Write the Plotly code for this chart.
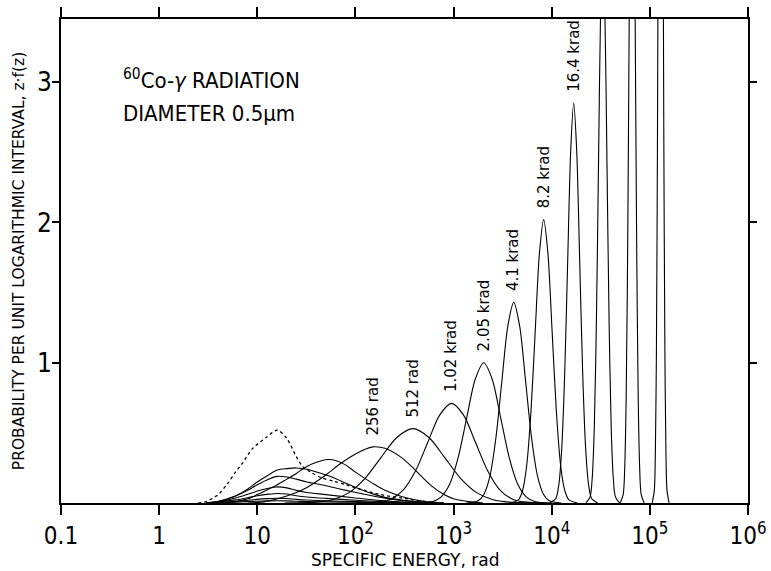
import math
import plotly.graph_objects as go

# ---------------- data ----------------
x_tick_vals = [0.1, 1, 10, 100, 1000, 10000, 100000, 1000000]
x_tick_text = ["0.1", "1", "10", "10<sup>2</sup>", "10<sup>3</sup>",
               "10<sup>4</sup>", "10<sup>5</sup>", "10<sup>6</sup>"]
y_tick_vals = [1, 2, 3]
y_tick_text = ["1", "2", "3"]

# single-event distribution (dotted)
z_single = [2.5, 3, 4, 5, 6, 7, 9, 12.5, 16, 20, 25, 29, 35, 45, 60, 80, 110, 180, 300, 500, 800]
y_single = [0, 0.01, 0.06, 0.14, 0.22, 0.28, 0.39, 0.47, 0.52, 0.46, 0.33, 0.26, 0.22, 0.18,
            0.155, 0.13, 0.10, 0.06, 0.035, 0.012, 0]

# multi-event distributions, low doses
z_1 = [3, 4, 6, 8, 10, 13, 16, 20, 25, 32, 50, 100, 200, 400]
y_1 = [0, 0.002, 0.006, 0.010, 0.013, 0.015, 0.016, 0.015, 0.012, 0.010, 0.008, 0.005, 0.002, 0]
z_2 = [3, 4, 6, 8, 10, 13, 16, 20, 25, 32, 50, 100, 200, 400]
y_2 = [0, 0.004, 0.012, 0.020, 0.026, 0.031, 0.034, 0.032, 0.026, 0.021, 0.016, 0.010, 0.004, 0]
z_4 = [3, 4, 6, 8, 10, 13, 16, 20, 25, 32, 50, 100, 200, 400]
y_4 = [0, 0.007, 0.022, 0.038, 0.052, 0.063, 0.068, 0.064, 0.052, 0.043, 0.033, 0.020, 0.008, 0]
z_8 = [3, 4, 6, 8, 10, 13, 16, 20, 25, 32, 50, 100, 200, 500]
y_8 = [0, 0.010, 0.035, 0.062, 0.085, 0.105, 0.115, 0.108, 0.090, 0.075, 0.060, 0.036, 0.015, 0]
z_16 = [3, 4, 6, 8, 10, 13, 16, 20, 25, 32, 45, 60, 80, 110, 200, 400, 700]
y_16 = [0, 0.012, 0.050, 0.090, 0.130, 0.170, 0.190, 0.185, 0.170, 0.150, 0.130, 0.110, 0.090,
        0.070, 0.035, 0.010, 0]
z_32 = [3, 4, 6, 8, 10, 13, 16, 20, 25, 32, 45, 60, 80, 110, 150, 200, 300, 500, 700]
y_32 = [0, 0.010, 0.050, 0.100, 0.150, 0.200, 0.235, 0.245, 0.250, 0.240, 0.210, 0.180, 0.140,
        0.100, 0.065, 0.040, 0.020, 0.005, 0]
z_64 = [4, 6, 8, 10, 14, 16, 20, 25, 30, 40, 52, 65, 80, 100, 150, 200, 300, 500, 800]
y_64 = [0, 0.010, 0.030, 0.060, 0.110, 0.130, 0.170, 0.210, 0.250, 0.290, 0.310, 0.300, 0.270,
        0.220, 0.140, 0.090, 0.045, 0.012, 0]

# multi-event distributions, higher doses
z_256 = [8, 12, 20, 30, 50, 70, 100, 150, 200, 300, 400, 600, 800, 1000, 1500, 2000]
y_256 = [0, 0.01, 0.05, 0.10, 0.20, 0.28, 0.35, 0.40, 0.39, 0.32, 0.24, 0.12, 0.06, 0.03, 0.008, 0]
z_512 = [18.9, 40.2, 58.5, 85.3, 124, 181, 264, 385, 561, 817, 1191, 1734, 2529, 3681, 7816]
y_512 = [0, 0.006, 0.023, 0.072, 0.172, 0.322, 0.467, 0.53, 0.467, 0.322, 0.172, 0.072, 0.023, 0.006, 0]
z_1k = [101, 177, 234, 310, 411, 545, 721, 955, 1265, 1675, 2218, 2938, 3890, 5152, 9036]
y_1k = [0, 0.008, 0.031, 0.096, 0.231, 0.431, 0.626, 0.71, 0.626, 0.431, 0.231, 0.096, 0.031, 0.008, 0]
z_2k = [412, 614, 749, 914, 1115, 1361, 1662, 2028, 2475, 3020, 3686, 4498, 5490, 6699, 9977]
y_2k = [0, 0.011, 0.044, 0.135, 0.325, 0.607, 0.882, 1.0, 0.882, 0.607, 0.325, 0.135, 0.044, 0.011, 0]
z_4k = [1346, 1778, 2044, 2350, 2701, 3105, 3569, 4102, 4716, 5420, 6231, 7161, 8232, 9462, 12503]
y_4k = [0, 0.016, 0.063, 0.193, 0.465, 0.868, 1.261, 1.43, 1.261, 0.868, 0.465, 0.193, 0.063, 0.016, 0]
z_8k = [3750, 4571, 5047, 5572, 6152, 6792, 7499, 8279, 9141, 10093, 11143, 12303, 13583, 14997, 18281]
y_8k = [0, 0.022, 0.089, 0.273, 0.657, 1.226, 1.782, 2.02, 1.782, 1.226, 0.657, 0.273, 0.089, 0.022, 0]
z_16k = [9550, 10990, 11790, 12647, 13566, 14555, 15614, 16749, 17968, 19275, 20677, 22182, 23797,
         25527, 29376]
y_16k = [0, 0.031, 0.125, 0.385, 0.926, 1.73, 2.514, 2.85, 2.514, 1.73, 0.926, 0.385, 0.125, 0.031, 0]
z_32k = [22284, 24604, 25855, 27164, 28545, 29992, 31516, 33113, 34797, 36559, 38415, 40365, 42413,
         44566, 49204]
y_32k = [0, 0.044, 0.176, 0.54, 1.3, 2.428, 3.528, 4.0, 3.528, 2.428, 1.3, 0.54, 0.176, 0.044, 0]
z_65k = [49888, 53519, 55432, 57412, 59462, 61591, 63790, 66069, 68428, 70874, 73406, 76033, 78748,
         81565, 87498]
y_65k = [0, 0.062, 0.249, 0.764, 1.84, 3.436, 4.992, 5.66, 4.992, 3.436, 1.84, 0.764, 0.249, 0.062, 0]
z_131k = [105580, 110970, 113750, 116630, 119560, 122580, 125690, 128820, 132050, 135380, 138800,
          142290, 145870, 149570, 157180]
y_131k = [0, 0.088, 0.352, 1.08, 2.6, 4.856, 7.056, 8.0, 7.056, 4.856, 2.6, 1.08, 0.352, 0.088, 0]

curve_z = [z_1, z_2, z_4, z_8, z_16, z_32, z_64, z_256, z_512, z_1k, z_2k, z_4k, z_8k,
           z_16k, z_32k, z_65k, z_131k]
curve_y = [y_1, y_2, y_4, y_8, y_16, y_32, y_64, y_256, y_512, y_1k, y_2k, y_4k, y_8k,
           y_16k, y_32k, y_65k, y_131k]
curve_labels = ["", "", "", "", "", "", "", "256 rad", "512 rad", "1.02 krad", "2.05 krad",
                "4.1 krad", "8.2 krad", "16.4 krad", "", "", ""]

NARROW = "Liberation Sans Narrow, DejaVu Sans Condensed, Liberation Sans, sans-serif"
PLAIN = "DejaVu Sans, Liberation Sans, sans-serif"

fig = go.Figure()
for zs, ys in zip(curve_z, curve_y):
    fig.add_trace(go.Scatter(x=zs, y=ys, mode="lines",
                             line=dict(color="black", width=1.1, shape="spline", smoothing=0.8),
                             showlegend=False, hoverinfo="skip"))
fig.add_trace(go.Scatter(x=z_single, y=y_single, mode="lines",
                         line=dict(color="black", width=1.3, dash="dot", shape="spline", smoothing=0.8),
                         showlegend=False, hoverinfo="skip"))

YMAX = 3.45
annotations = []
for zs, ys, lab in zip(curve_z, curve_y, curve_labels):
    if not lab:
        continue
    k = ys.index(max(ys))
    annotations.append(dict(x=math.log10(zs[k]), y=ys[k], xref="x", yref="y", text=lab,
                            textangle=-90, showarrow=False, xanchor="center", yanchor="bottom",
                            yshift=9, font=dict(family=PLAIN, size=15, color="black")))

annotations.append(dict(x=0.087, y=0.877, xref="paper", yref="paper", xanchor="left", yanchor="middle",
                        text="<sup>60</sup>Co-<i>γ</i> RADIATION", showarrow=False,
                        font=dict(family=NARROW, size=22, color="black")))
annotations.append(dict(x=0.087, y=0.804, xref="paper", yref="paper", xanchor="left", yanchor="middle",
                        text="DIAMETER 0.5μm", showarrow=False,
                        font=dict(family=NARROW, size=22, color="black")))
# x-axis title
annotations.append(dict(x=0.5, y=-0.118, xref="paper", yref="paper", xanchor="center", yanchor="middle",
                        text="SPECIFIC ENERGY, rad", showarrow=False,
                        font=dict(family=PLAIN, size=17, color="black")))

fig.update_layout(
    width=771, height=571,
    margin=dict(l=61, r=23, t=19, b=68, autoexpand=False),
    paper_bgcolor="white", plot_bgcolor="white",
    annotations=annotations,
    xaxis=dict(type="log", range=[-1, 6], tickvals=x_tick_vals, ticktext=x_tick_text,
               ticks="outside", ticklen=10, tickwidth=1.5, tickcolor="black",
               showline=True, linecolor="black", linewidth=2, mirror="ticks",
               showgrid=False, zeroline=False, automargin=False,
               tickfont=dict(family=NARROW, size=24, color="black")),
    yaxis=dict(range=[0, YMAX], tickvals=y_tick_vals, ticktext=y_tick_text,
               ticks="outside", ticklen=7, tickwidth=1.5, tickcolor="black",
               showline=True, linecolor="black", linewidth=2, mirror="ticks",
               showgrid=False, zeroline=False, automargin=False,
               tickfont=dict(family=NARROW, size=26, color="black"),
               title=dict(text="PROBABILITY PER UNIT LOGARITHMIC INTERVAL, z·f(z)", standoff=8,
                          font=dict(family=PLAIN, size=15.5, color="black"))),
)
try:
    fig.update_yaxes(ticklabelstandoff=-5)
except Exception:
    pass

fig.write_html("out.html")
